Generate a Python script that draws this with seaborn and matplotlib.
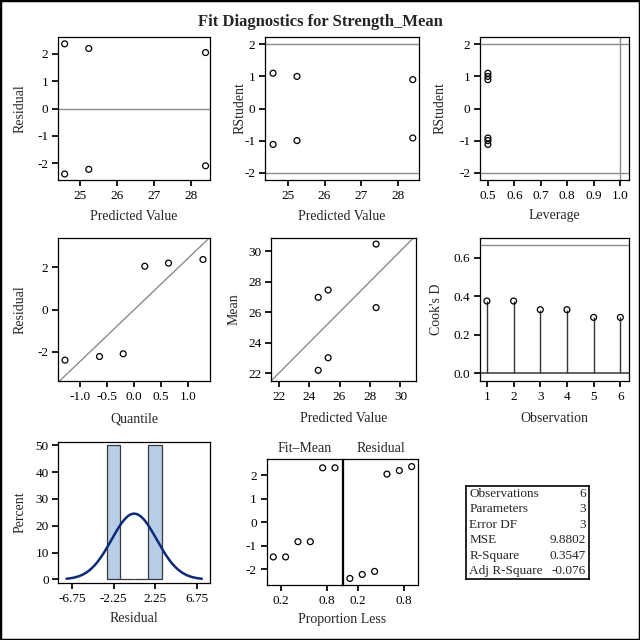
import numpy as np
import pandas as pd
import matplotlib
matplotlib.use("Agg")
import matplotlib.pyplot as plt
import seaborn as sns
from matplotlib.patches import Rectangle

# values
observation = [1, 2, 3, 4, 5, 6]
predicted = [24.6, 24.6, 25.25, 25.25, 28.4, 28.4]
residual = [-2.4, 2.37, -2.23, 2.2, -2.1, 2.05]
rstudent = [-1.12, 1.1, -1.0, 1.0, -0.92, 0.9]
leverage = [0.5, 0.5, 0.5, 0.5, 0.5, 0.5]
cooks_d = [0.375, 0.375, 0.33, 0.33, 0.29, 0.29]
quantile = [-1.28, -0.64, -0.2, 0.2, 0.64, 1.28]
prop_less = [0.1, 0.26, 0.42, 0.58, 0.74, 0.9]
hist_bins = [-3.0, -1.5, 0.0, 1.5, 3.0]

stat_names = ["Observations", "Parameters", "Error DF", "MSE", "R-Square", "Adj R-Square"]
stat_values = ["6", "3", "3", "9.8802", "0.3547", "-0.076"]

df = pd.DataFrame({"obs": observation, "pred": predicted, "resid": residual,
                   "rstud": rstudent, "lev": leverage, "cook": cooks_d})
df["mean"] = df["pred"] + df["resid"]
n_obs = len(df)

sns.set_theme(style="ticks")
plt.rcParams["font.family"] = ["Liberation Serif", "DejaVu Serif"]
plt.rcParams["axes.unicode_minus"] = False
plt.rcParams["xtick.labelsize"] = 9.5
plt.rcParams["ytick.labelsize"] = 9.5
plt.rcParams["axes.labelsize"] = 10
plt.rcParams["axes.edgecolor"] = "black"
plt.rcParams["axes.linewidth"] = 0.9
plt.rcParams["xtick.color"] = "black"
plt.rcParams["ytick.color"] = "black"
plt.rcParams["xtick.major.size"] = 4.5
plt.rcParams["ytick.major.size"] = 4.5
plt.rcParams["xtick.major.pad"] = 3
plt.rcParams["ytick.major.pad"] = 2.5

fig = plt.figure(figsize=(6.4, 6.4), dpi=100)
W = H = 640.0


def panel(l, t, r, b):
    # pixel box (from top-left) -> axes
    ax = fig.add_axes([l / W, 1 - b / H, (r - l) / W, (b - t) / H])
    ax.box_px = (l, t, r, b)
    return ax


def place_labels(ax, ylab_x=None, xlab_y=None):
    l, t, r, b = ax.box_px
    if ylab_x is not None:
        ax.yaxis.set_label_coords((ylab_x - l) / (r - l), 0.5)
        ax.yaxis.label.set_va("center")
    if xlab_y is not None:
        ax.xaxis.set_label_coords(0.5, (b - xlab_y) / (b - t))
        ax.xaxis.label.set_va("center")


ref = dict(color="#8c8c8c", lw=1.0, zorder=1)
pts = dict(marker="o", facecolors="none", edgecolor="black", s=18, linewidth=0.9, zorder=3)

fig.text(0.5, 1 - 22 / H, "Fit Diagnostics for Strength_Mean", ha="center", va="center",
         fontsize=12, fontweight="bold")

# row 1
ax = panel(58, 37, 210, 180)
ax.axhline(0, **ref)
sns.scatterplot(data=df, x="pred", y="resid", ax=ax, **pts)
ax.set_xlim(24.42, 28.52)
ax.set_ylim(-2.62, 2.62)
ax.set_xticks([25, 26, 27, 28])
ax.set_yticks([-2, -1, 0, 1, 2])
ax.set_xlabel("Predicted Value")
ax.set_ylabel("Residual")
place_labels(ax, 20.5, 216)

ax = panel(265, 37, 419, 180)
for v in (-2, 2):
    ax.axhline(v, **ref)
sns.scatterplot(data=df, x="pred", y="rstud", ax=ax, **pts)
ax.set_xlim(24.38, 28.57)
ax.set_ylim(-2.23, 2.23)
ax.set_xticks([25, 26, 27, 28])
ax.set_yticks([-2, -1, 0, 1, 2])
ax.set_xlabel("Predicted Value")
ax.set_ylabel("RStudent")
place_labels(ax, 240, 216)

ax = panel(480, 37, 628.6, 180)
for v in (-2, 2):
    ax.axhline(v, **ref)
ax.axvline(2 * 3 / n_obs, **ref)
sns.scatterplot(data=df, x="lev", y="rstud", ax=ax, **pts)
ax.set_xlim(0.47, 1.032)
ax.set_ylim(-2.23, 2.23)
ax.set_xticks([0.5, 0.6, 0.7, 0.8, 0.9, 1.0])
ax.set_xticklabels(["0.5", "0.6", "0.7", "0.8", "0.9", "1.0"])
ax.set_yticks([-2, -1, 0, 1, 2])
ax.set_xlabel("Leverage")
ax.set_ylabel("RStudent")
place_labels(ax, 440, 216)

# row 2
ax = panel(58, 238, 210, 381)
r_sorted = np.sort(df["resid"].values)
mu, sd = r_sorted.mean(), r_sorted.std(ddof=1)
qx = np.array([-1.5, 1.5])
ax.plot(qx, mu + sd * qx, **ref)
sns.scatterplot(x=quantile, y=r_sorted, ax=ax, **pts)
ax.set_xlim(-1.41, 1.41)
ax.set_ylim(-3.39, 3.39)
ax.set_xticks([-1.0, -0.5, 0.0, 0.5, 1.0])
ax.set_xticklabels(["-1.0", "-0.5", "0.0", "0.5", "1.0"])
ax.set_yticks([-2, 0, 2])
ax.set_xlabel("Quantile")
ax.set_ylabel("Residual")
place_labels(ax, 20.5, 419)

ax = panel(271.3, 238, 415.7, 381)
ax.plot([20, 32], [20, 32], **ref)
sns.scatterplot(data=df, x="pred", y="mean", ax=ax, **pts)
ax.set_xlim(21.52, 31.0)
ax.set_ylim(21.5, 30.85)
ax.set_xticks([22, 24, 26, 28, 30])
ax.set_yticks([22, 24, 26, 28, 30])
ax.set_xlabel("Predicted Value")
ax.set_ylabel("Mean")
place_labels(ax, 234, 419)

ax = panel(480, 238, 628.6, 381)
ax.axhline(4 / n_obs, **ref)
ax.axhline(0, color="#555555", lw=1.3, zorder=1)
ax.vlines(df["obs"], 0, df["cook"], color="#333333", lw=1.0, zorder=2)
sns.scatterplot(data=df, x="obs", y="cook", ax=ax, **pts)
ax.set_xlim(0.74, 6.31)
ax.set_ylim(-0.04, 0.702)
ax.set_xticks(observation)
ax.set_yticks([0.0, 0.2, 0.4, 0.6])
ax.set_yticklabels(["0.0", "0.2", "0.4", "0.6"])
ax.set_xlabel("Observation")
ax.set_ylabel("Cook's D")
place_labels(ax, 437, 419)

# row 3: histogram with normal curve
ax = panel(58.4, 441.7, 209.8, 582.7)
sns.histplot(x=df["resid"], bins=hist_bins, stat="percent", ax=ax,
             color="#b8cde6", edgecolor="#3a3a3a", linewidth=0.9, alpha=1.0)
bw = hist_bins[1] - hist_bins[0]
gx = np.linspace(mu - 3 * sd, mu + 3 * sd, 200)
gy = 100 * bw * np.exp(-0.5 * ((gx - mu) / sd) ** 2) / (sd * np.sqrt(2 * np.pi))
sns.lineplot(x=gx, y=gy, ax=ax, color="#0c2a7a", lw=1.8)
ax.set_xlim(-8.22, 8.17)
ax.set_ylim(-1.2, 51.3)
ax.set_xticks([-6.75, -2.25, 2.25, 6.75])
ax.set_xticklabels(["-6.75", "-2.25", "2.25", "6.75"])
ax.set_yticks([0, 10, 20, 30, 40, 50])
ax.set_xlabel("Residual")
ax.set_ylabel("Percent")
place_labels(ax, 20.5, 619)

# residual-fit spread
fit_minus_mean = np.sort(df["pred"].values - df["pred"].mean())
ax1 = panel(266.7, 459.3, 341.7, 585)
ax2 = panel(343.3, 459.3, 418.4, 585)
sns.scatterplot(x=prop_less, y=fit_minus_mean, ax=ax1, **pts)
sns.scatterplot(x=prop_less, y=r_sorted, ax=ax2, **pts)
for a, ttl in ((ax1, "Fit\u2013Mean"), (ax2, "Residual")):
    a.set_xlim(0.015, 0.987)
    a.set_ylim(-2.68, 2.68)
    a.set_xticks([0.2, 0.8])
    a.set_xticklabels(["0.2", "0.8"])
    a.set_xlabel("")
    a.set_ylabel("")
    a.set_title(ttl, fontsize=10, pad=5)
ax1.set_yticks([-2, -1, 0, 1, 2])
ax2.set_yticks([-2, -1, 0, 1, 2])
ax2.tick_params(axis="y", left=False, labelleft=False)
fig.text(342 / W, 1 - 620 / H, "Proportion Less", ha="center", va="center", fontsize=10)

# fit statistics table
tax = panel(465.7, 486, 589.3, 579)
tax.set_xticks([])
tax.set_yticks([])
for sp in tax.spines.values():
    sp.set_linewidth(1.2)
for i, (nm, val) in enumerate(zip(stat_names, stat_values)):
    yy = 1 - (i + 0.5) / len(stat_names)
    tax.text(0.03, yy, nm, transform=tax.transAxes, ha="left", va="center", fontsize=9.5)
    tax.text(0.975, yy, val, transform=tax.transAxes, ha="right", va="center", fontsize=9.5)

fig.patches.append(Rectangle((0, 0), 1, 1, transform=fig.transFigure, fill=False,
                             edgecolor="black", lw=2.5, zorder=10))

fig.savefig("out.png", dpi=100)
